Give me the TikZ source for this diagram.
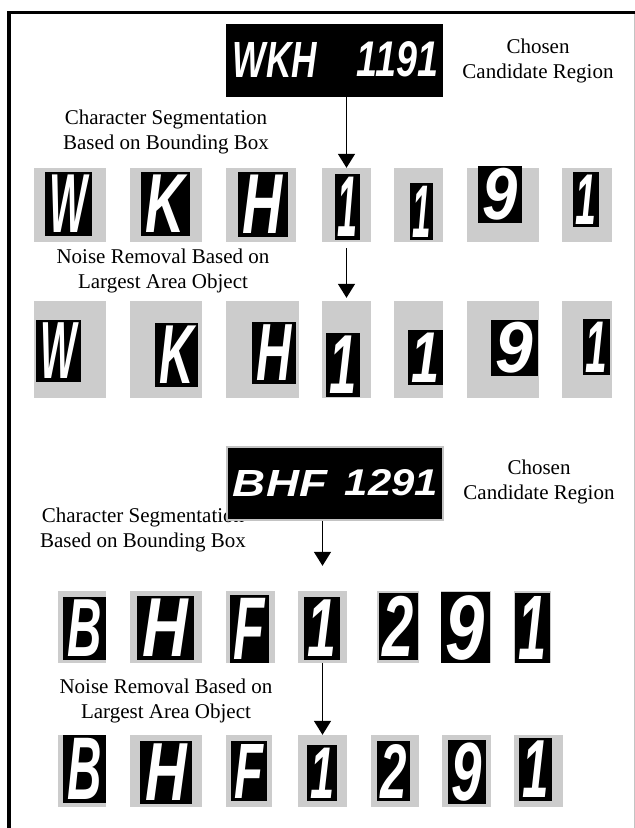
\documentclass[tikz,border=0pt]{standalone}
\usepackage{fontspec}
\setmainfont{Liberation Serif}
\newfontfamily\platefont{Liberation Sans}
\usepackage{graphicx}
\usetikzlibrary{arrows.meta,fit}
\definecolor{boxgray}{RGB}{204,204,204}
\definecolor{rimgray}{RGB}{195,195,195}
\newcommand\charrow[1]{%
  \foreach \nm/\gxa/\gya/\gxb/\gyb/\bxa/\bya/\bxb/\byb/\cc in {#1} {
    \node[fit={(\gxa,\gya) (\gxb,\gyb)}, inner sep=0, fill=boxgray] (\nm) {};
    \node[fit={(\bxa,\bya) (\bxb,\byb)}, inner sep=0, fill=black] (\nm-b) {};
    \pgfmathsetmacro\cw{(\bxb-\bxa)*0.80}
    \pgfmathsetmacro\chh{(\byb-\bya)*0.90}
    \node[inner sep=0, text=white] (\nm-t) at (\nm-b.center)
      {\resizebox{\cw pt}{\chh pt}{\platefont\bfseries\itshape\cc}};
  }}
\begin{document}
\begin{tikzpicture}[x=1pt,y=-1pt,
  lbl/.style={font=\fontsize{21}{25}\selectfont, align=center, inner sep=0},
  arr/.style={line width=1.5pt, -{Triangle[width=17pt,length=14pt]}},
  platetxt/.style={inner sep=0, text=white}]
\useasboundingbox (0,0) rectangle (635,828);
\fill[white] (0,0) rectangle (635,828);
% frame
\draw[line width=3.5pt] (9,828) -- (9,12.5) -- (635,12.5);
\draw[rimgray, line width=1pt] (634,14) -- (634,828);

% ---------- block 1 ----------
\node[lbl] (seg1) at (166,132) {Character Segmentation\\Based on Bounding Box};
\node[lbl] (cho1) at (538,61) {Chosen\\Candidate Region};
\node[lbl] (noi1) at (163,271) {Noise Removal Based on\\Largest Area Object};

\node[fit={(226,24) (443,97)}, inner sep=0, fill=black] (plate1) {};
\node[platetxt] (p1a) at (275,59.5) {\resizebox{84pt}{35pt}{\platefont\bfseries\itshape WKH}};
\node[platetxt] (p1b) at (397.5,59.5) {\resizebox{81pt}{35pt}{\platefont\bfseries\itshape 1191}};

\charrow{r1a/34/168/106/242/45/172/92/236/W,
         r1b/130/168/202/242/141/172/190/236/K,
         r1c/226/168/296/242/238/172/288/237/H,
         r1d/322/168/371/242/335/174/360/240/1,
         r1e/394/168/443/242/410/183/433/240/1,
         r1f/467/168/539/242/478/166/522/223/9,
         r1g/562/168/612/242/573/172/599/227/1}

\charrow{r2a/34/301/106/398/36/320/81/382/W,
         r2b/130/301/202/398/155/323/198/387/K,
         r2c/226/301/299/398/252/322/296/384/H,
         r2d/322/301/371/398/326/333/360/397/1,
         r2e/394/301/443/398/408/330/443/385/1,
         r2f/467/301/539/398/491/320/538/376/9,
         r2g/562/301/612/398/583/319/610/375/1}

\draw[arr] (plate1.south -| r1d.north) -- (r1d.north);
\draw[arr] ([yshift=-6pt]r1d.south) -- ([yshift=3pt]r2d.north);

% ---------- block 2 ----------
\node[lbl] (seg2) at (143,530) {Character Segmentation\\Based on Bounding Box};
\node[lbl] (cho2) at (539,481.5) {Chosen\\Candidate Region};
\node[lbl] (noi2) at (166,701) {Noise Removal Based on\\Largest Area Object};

\node[fit={(227,447) (443,520)}, inner sep=0, fill=black, draw=rimgray, line width=1.5pt] (plate2) {};
\node[platetxt] (p2a) at (280,483) {\resizebox{94pt}{26pt}{\platefont\bfseries\itshape BHF}};
\node[platetxt] (p2b) at (391.5,483) {\resizebox{93pt}{26pt}{\platefont\bfseries\itshape 1291}};

\charrow{r3a/58/591/106/663/63/597/106/660/B,
         r3b/130/591/202/663/137/596/194/660/H,
         r3c/226/591/275/663/230/595/269/663/F,
         r3d/298/591/347/663/304/597/340/660/1,
         r3e/377/591/419/663/379/593/418/660/2,
         r3f/441/591/491/663/441/592/490/663/9,
         r3g/514/591/551/663/515/593/550/663/1}

\charrow{r4a/58/735/106/807/63/735/106/803/B,
         r4b/130/735/202/807/140/741/192/804/H,
         r4c/226/735/272/807/231/741/267/801/F,
         r4d/298/735/347/807/307/745/337/801/1,
         r4e/371/735/419/807/377/741/410/801/2,
         r4f/442/735/491/807/448/740/486/804/9,
         r4g/514/735/563/807/519/738/552/801/1}

\coordinate (tip3) at ([yshift=25pt]r3d.north);
\draw[arr] (plate2.south -| r3d.north) -- (tip3);
\draw[arr] (r3d.south) -- (r4d.north);
\end{tikzpicture}
\end{document}
